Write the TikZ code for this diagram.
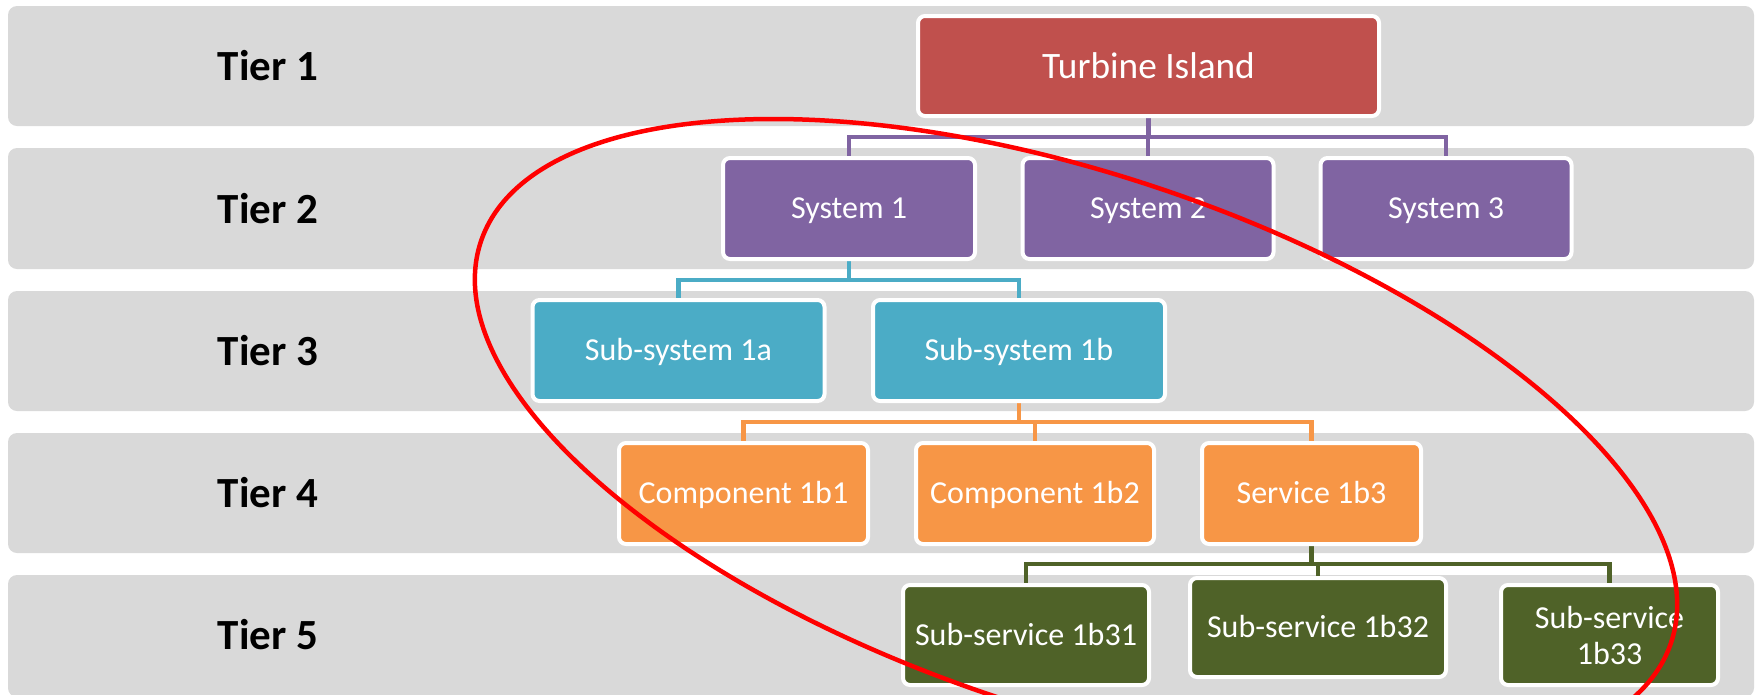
\documentclass[tikz,border=0pt]{standalone}
\usepackage{fontspec}
\setmainfont{Carlito}
\definecolor{bandgray}{HTML}{D9D9D9}
\definecolor{tred}{HTML}{C0504D}
\definecolor{tpurple}{HTML}{8064A2}
\definecolor{tteal}{HTML}{4BACC6}
\definecolor{torange}{HTML}{F79646}
\definecolor{tolive}{HTML}{4F6228}
\pgfdeclarelayer{bandlayer}
\pgfdeclarelayer{linklayer}
\pgfsetlayers{bandlayer,linklayer,main}
\begin{document}
\begin{tikzpicture}[x=1pt,y=-1pt,
  band/.style={fill=bandgray, rounded corners=9pt},
  tierlabel/.style={font=\fontsize{43}{50}\selectfont\bfseries, text=black, inner sep=0pt},
  box/.style={draw=white, line width=4pt, rounded corners=7pt, inner sep=0pt, text=white, minimum height=101pt},
  oneline/.style={font=\fontsize{32}{36}\selectfont, text height=20.6pt, text depth=0pt},
  sysbox/.style={box, fill=tpurple, oneline},
  subbox/.style={box, fill=tteal, oneline},
  compbox/.style={box, fill=torange, oneline},
  ssbox/.style={box, fill=tolive, minimum height=100pt, font=\fontsize{32}{36}\selectfont},
  link/.style={line width=4.5pt, line join=miter},
]
\useasboundingbox (0,0) rectangle (1760,694);

% tier bands
\begin{pgfonlayer}{bandlayer}
\fill[band] (8,6) rectangle (1754,126);
\fill[band] (8,148) rectangle (1754,269);
\fill[band] (8,291) rectangle (1754,411);
\fill[band] (8,433) rectangle (1754,553);
\fill[band] (8,575) rectangle (1754,697);
\end{pgfonlayer}

% tier labels
\node[tierlabel] (t1) at (268,66) {Tier 1};
\node[tierlabel] (t2) at (268,208.5) {Tier 2};
\node[tierlabel] (t3) at (268,351) {Tier 3};
\node[tierlabel] (t4) at (268,493) {Tier 4};
\node[tierlabel] (t5) at (268,635) {Tier 5};

% boxes
\node[box, fill=tred, font=\fontsize{37.3}{44}\selectfont, text height=24pt, text depth=0pt,
      minimum width=461pt, minimum height=100pt] (T) at (1148.5,66) {Turbine Island};

\node[sysbox, minimum width=252pt] (S1) at (849,208.5) {System 1};
\node[sysbox, minimum width=251pt] (S2) at (1148,208.5) {System 2};
\node[sysbox, minimum width=251pt] (S3) at (1446,208.5) {System 3};

\node[subbox, minimum width=292pt] (A) at (678.5,350.5) {Sub-system 1a};
\node[subbox, minimum width=292pt] (B) at (1019,350.5) {Sub-system 1b};

\node[compbox, minimum width=249pt] (C1) at (743.5,493.5) {Component 1b1};
\node[compbox, minimum width=238pt] (C2) at (1035,493.5) {Component 1b2};
\node[compbox, minimum width=219pt] (C3) at (1311.5,493.5) {Service 1b3};

\node[ssbox, oneline, minimum width=246pt] (D1) at (1026,635) {Sub-service 1b31};
\node[ssbox, oneline, minimum width=256pt, minimum height=99pt] (D2) at (1318,627.5) {Sub-service 1b32};
\node[ssbox, minimum width=217pt, align=center] (D3) at (1609.5,635) {Sub-service\\1b33};

% bar levels
\coordinate (y1) at (0,137);
\coordinate (y2) at (0,280);
\coordinate (y3) at (0,422);
\coordinate (y4) at (0,564);

\begin{pgfonlayer}{linklayer}
\draw[link, tpurple] (T.south) -- (T.south |- y1);
\draw[link, tpurple] (S1.north) |- (S3.north |- y1) -- (S3.north);
\draw[link, tpurple] (S2.north) -- (S2.north |- y1);

\draw[link, tteal] (S1.south) -- (S1.south |- y2);
\draw[link, tteal] (A.north) |- (B.north |- y2) -- (B.north);

\draw[link, torange] (B.south) -- (B.south |- y3);
\draw[link, torange] (C1.north) |- (C3.north |- y3) -- (C3.north);
\draw[link, torange] (C2.north) -- (C2.north |- y3);

\draw[link, tolive] (C3.south) -- (C3.south |- y4);
\draw[link, tolive] (D1.north) |- (D3.north |- y4) -- (D3.north);
\draw[link, tolive] (D2.north) -- (D2.north |- y4);
\end{pgfonlayer}

% red highlight ellipse
\begin{scope}
\clip (0,0) rectangle (1760,694);
\draw[red, line width=4.5pt, rotate around={-18.65:(1076,442)}] (1076,442) ellipse [x radius=628pt, y radius=267pt];
\end{scope}
\end{tikzpicture}
\end{document}
